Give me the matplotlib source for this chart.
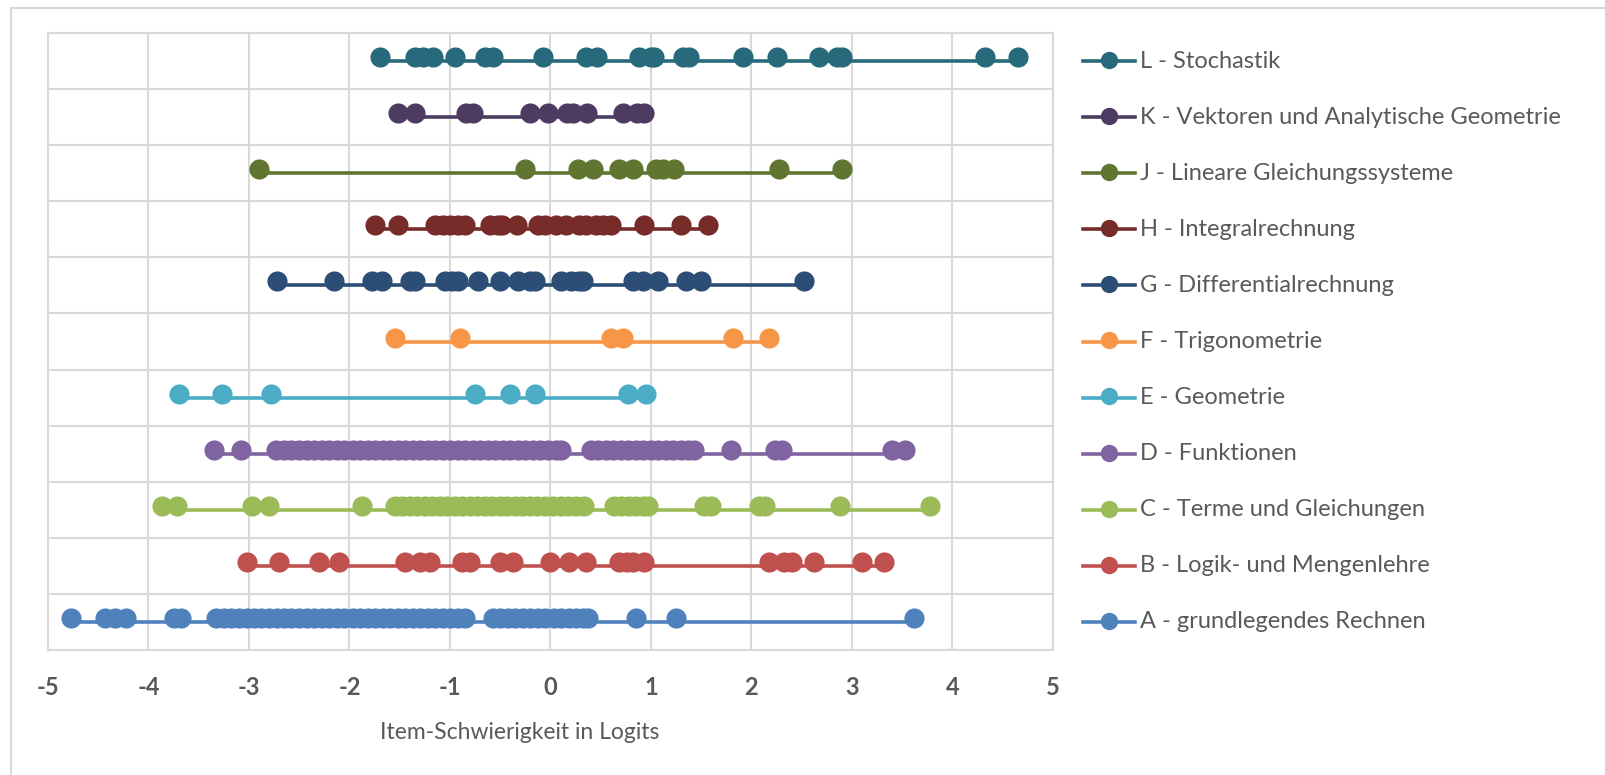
import matplotlib
matplotlib.use('Agg')
import matplotlib.pyplot as plt
from matplotlib.lines import Line2D
from matplotlib.patches import Rectangle
import matplotlib.transforms as mtransforms

# item difficulties (logits) per content area
labels = ['A - grundlegendes Rechnen', 'B - Logik- und Mengenlehre',
          'C - Terme und Gleichungen', 'D - Funktionen', 'E - Geometrie',
          'F - Trigonometrie', 'G - Differentialrechnung', 'H - Integralrechnung',
          'J - Lineare Gleichungssysteme', 'K - Vektoren und Analytische Geometrie',
          'L - Stochastik']
colors = ['#4F81BD', '#C0504D', '#9BBB59', '#8064A2', '#4BACC6', '#F79646',
          '#2C4D75', '#772C2A', '#5F7530', '#4D3B62', '#276A7C']

A = [-4.77, -4.43, -4.33, -4.22, -3.75, -3.68, -3.33, -3.25, -3.18, -3.1, -3.02,
     -2.95, -2.88, -2.8, -2.72, -2.65, -2.58, -2.5, -2.42, -2.35, -2.27, -2.2,
     -2.12, -2.05, -1.97, -1.9, -1.82, -1.75, -1.67, -1.6, -1.52, -1.45, -1.37,
     -1.3, -1.22, -1.15, -1.07, -1.0, -0.92, -0.85, -0.57, -0.5, -0.42, -0.35,
     -0.27, -0.2, -0.12, -0.05, 0.03, 0.1, 0.18, 0.25, 0.32, 0.37, 0.85, 1.25, 3.62]
B = [-3.02, -2.7, -2.3, -2.1, -1.45, -1.3, -1.2, -0.88, -0.8, -0.5, -0.37, 0.0,
     0.18, 0.35, 0.68, 0.76, 0.82, 0.93, 2.17, 2.32, 2.4, 2.62, 3.1, 3.32]
C = [-3.87, -3.72, -2.97, -2.8, -1.88, -1.55, -1.48, -1.4, -1.33, -1.25, -1.18,
     -1.1, -1.03, -0.95, -0.88, -0.8, -0.73, -0.65, -0.58, -0.5, -0.43, -0.35,
     -0.28, -0.2, -0.13, -0.05, 0.02, 0.1, 0.17, 0.25, 0.33, 0.63, 0.7, 0.78,
     0.85, 0.92, 0.97, 1.53, 1.6, 2.07, 2.13, 2.88, 3.78]
D = [-3.35, -3.08, -2.73, -2.65, -2.58, -2.5, -2.42, -2.35, -2.27, -2.2, -2.12,
     -2.05, -1.97, -1.9, -1.82, -1.75, -1.67, -1.6, -1.52, -1.45, -1.37, -1.3,
     -1.22, -1.15, -1.07, -1.0, -0.92, -0.85, -0.77, -0.7, -0.62, -0.55, -0.47,
     -0.4, -0.32, -0.25, -0.17, -0.1, -0.02, 0.05, 0.1, 0.4, 0.47, 0.55, 0.62,
     0.7, 0.77, 0.85, 0.92, 1.0, 1.07, 1.15, 1.22, 1.3, 1.37, 1.43, 1.8, 2.23,
     2.3, 3.4, 3.53]
E = [-3.7, -3.27, -2.78, -0.75, -0.4, -0.15, 0.77, 0.95]
F = [-1.55, -0.9, 0.6, 0.72, 1.82, 2.17]
G = [-2.72, -2.15, -1.78, -1.68, -1.4, -1.35, -1.05, -0.98, -0.92, -0.72, -0.5,
     -0.32, -0.2, -0.15, 0.1, 0.2, 0.28, 0.32, 0.82, 0.92, 1.07, 1.35, 1.5, 2.52]
H = [-1.75, -1.52, -1.15, -1.07, -1.0, -0.92, -0.85, -0.6, -0.52, -0.48, -0.33,
     -0.12, -0.05, 0.05, 0.15, 0.28, 0.35, 0.45, 0.52, 0.6, 0.93, 1.3, 1.57]
J = [-2.9, -0.25, 0.27, 0.42, 0.68, 0.82, 1.05, 1.12, 1.23, 2.27, 2.9]
K = [-1.52, -1.35, -0.84, -0.77, -0.2, -0.02, 0.16, 0.22, 0.36, 0.72, 0.86, 0.93]
L = [-1.7, -1.35, -1.27, -1.17, -0.95, -0.65, -0.57, -0.07, 0.35, 0.46, 0.88,
     1.0, 1.03, 1.32, 1.38, 1.92, 2.25, 2.67, 2.85, 2.9, 4.32, 4.65]
series = [A, B, C, D, E, F, G, H, J, K, L]

grid_col = '#D9D9D9'
text_col = '#595959'
plt.rcParams['font.family'] = ['Lato', 'DejaVu Sans']
plt.rcParams['axes.unicode_minus'] = False

fig = plt.figure(figsize=(16.06, 7.75), dpi=100)
ax = fig.add_axes([48 / 1606, 125 / 775, 1005 / 1606, 617 / 775])

# chart area border
fig.add_artist(Rectangle((11 / 1606, -0.1), 2, 1.1 - 8 / 775, transform=fig.transFigure,
                         fill=False, edgecolor=grid_col, linewidth=1.5))

legend_tr = mtransforms.blended_transform_factory(ax.transAxes, ax.transData)
for i, (vals, lab, col) in enumerate(zip(series, labels, colors)):
    y = i + 0.5
    ax.plot([min(vals), max(vals)], [y, y], color=col, linewidth=2.6, zorder=3)
    ax.plot(vals, [y + 0.07] * len(vals), linestyle='none', marker='o',
            markersize=14.5, markeredgewidth=0, color=col, zorder=4)
    # legend entry next to its row
    ax.add_line(Line2D([1.030, 1.082], [y, y], transform=legend_tr, color=col,
                       linewidth=2.6, clip_on=False))
    ax.add_line(Line2D([1.056], [y + 0.02], transform=legend_tr, color=col,
                       marker='o', markersize=12.5, markeredgewidth=0, clip_on=False))
    ax.text(1.087, y, lab, transform=legend_tr, fontsize=17, color=text_col,
            va='center', ha='left')

ax.set_xlim(-5, 5)
ax.set_ylim(0, 11)
ax.set_xticks(range(-5, 6))
ax.set_yticks(range(0, 12))
ax.set_yticklabels([])
ax.tick_params(axis='both', length=0)
ax.tick_params(axis='x', pad=19, labelsize=17, labelcolor=text_col)
for t in ax.get_xticklabels():
    t.set_fontweight('bold')
ax.grid(True, color=grid_col, linewidth=1.5)
ax.set_axisbelow(True)
for sp in ax.spines.values():
    sp.set_color(grid_col)
    sp.set_linewidth(1.5)

ax.set_xlabel('Item-Schwierigkeit in Logits', fontsize=16.5, color=text_col,
              labelpad=16, x=0.469)

fig.savefig('out.png', dpi=100)
